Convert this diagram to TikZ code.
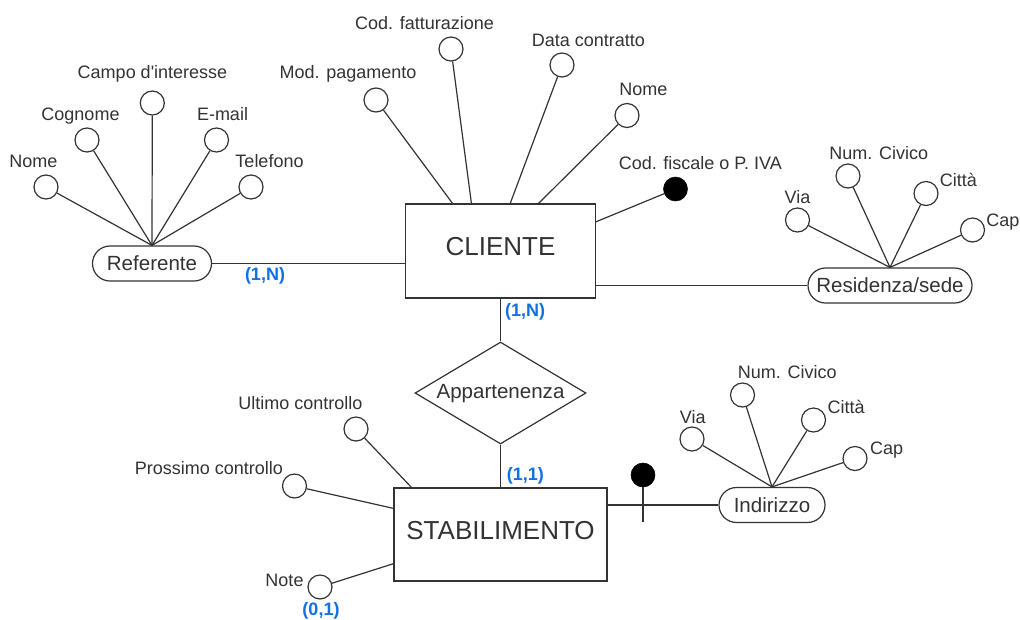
\documentclass[tikz,border=0pt]{standalone}
\usepackage{fontspec}
\setmainfont{Liberation Sans}
\usetikzlibrary{shapes.geometric,shapes.misc}
\definecolor{ink}{HTML}{333333}
\definecolor{cardblue}{HTML}{1071E5}
\begin{document}
\begin{tikzpicture}[x=0.75pt,y=-0.75pt,
  conn/.style={draw=ink, line width=0.9pt},
  attrc/.style={circle, draw=ink, line width=0.9pt, fill=white, minimum size=18pt, inner sep=0pt},
  keyattr/.style={circle, draw=black, fill=black, minimum size=18pt, inner sep=0pt},
  lbl/.style={text=ink, font=\fontsize{13.5pt}{16pt}\selectfont, inner sep=0pt, text height=9.7pt, text depth=0pt},
  cardlbl/.style={text=cardblue, font=\fontsize{13.5pt}{16pt}\selectfont\bfseries, inner sep=0pt, text height=9.7pt, text depth=0pt},
  entity/.style={rectangle, draw=ink, line width=0.9pt, fill=white, text=ink, font=\fontsize{19.5pt}{23pt}\selectfont, inner sep=0pt, text height=14pt, text depth=6.75pt},
  pill/.style={rounded rectangle, draw=ink, line width=0.9pt, fill=white, text=ink, font=\fontsize{15.4pt}{18pt}\selectfont, inner sep=0pt, text height=11pt, text depth=0pt, minimum height=26.25pt},
  relship/.style={diamond, draw=ink, line width=0.9pt, fill=white, inner sep=0pt},
  rellbl/.style={text=ink, font=\fontsize{15.4pt}{18pt}\selectfont, inner sep=0pt, text height=11pt, text depth=0pt},
]
\fill[white] (0,0) rectangle (1020,619);
\useasboundingbox (0,0) rectangle (1020,619);

% ---------- entities and relationship ----------
\node[entity, minimum width=142.5pt, minimum height=70.5pt] (cli) at (500.5,251) {CLIENTE};
\node[entity, minimum width=159.75pt, minimum height=69.75pt] (stab) at (500.5,534.5) {STABILIMENTO};
\node[relship, minimum width=128.25pt, minimum height=76.5pt] (app) at (500.5,393) {};
\node[rellbl] (applbl) at (500.5,391) {Appartenenza};

% ---------- composite attributes ----------
\node[pill, minimum width=89.25pt] (ref) at (152,263.5) {Referente};
\node[pill, minimum width=123pt] (res) at (890,285.5) {Residenza/sede};
\node[pill, minimum width=79.5pt] (ind) at (772,505) {Indirizzo};

% ---------- main connectors ----------
\draw[conn] (cli.south) -- (app.north);
\draw[conn] (app.south) -- (stab.north);
\draw[conn] (ref.east) -- (ref.east -| cli.west);
\draw[conn] (res.west -| cli.east) -- (res.west);
\draw[conn] (ind.west -| stab.east) -- (ind.west);

% ---------- Referente attributes ----------
\node[attrc] (rnome) at (46,187) {};
\node[attrc] (rcog) at (87,140) {};
\node[attrc] (rcampo) at (152.3,103) {};
\node[attrc] (remail) at (216.5,140) {};
\node[attrc] (rtel) at (251,187) {};
\foreach \a in {rnome,rcog,rcampo,remail,rtel} \draw[conn] (\a) -- (ref.north);
\node[lbl] (lrnome) at (33.5,161.5) {Nome};
\node[lbl] (lrcog) at (80.5,114) {Cognome};
\node[lbl] (lrcampo) at (152.5,72.3) {Campo d\textquotesingle interesse};
\node[lbl] (lremail) at (222.5,114) {E-mail};
\node[lbl] (lrtel) at (269.5,161.5) {Telefono};

% ---------- CLIENTE attributes ----------
\coordinate (c1) at (453,204);
\coordinate (c2) at (471.5,204);
\coordinate (c3) at (510,204);
\coordinate (c4) at (538,204);
\coordinate (c5) at (595.5,222);
\node[attrc] (cmod) at (376,100) {};
\node[attrc] (cfat) at (451,49) {};
\node[attrc] (cdata) at (562,65) {};
\node[attrc] (cnome) at (627,115.5) {};
\node[keyattr] (cfis) at (675.5,189) {};
\draw[conn] (cmod) -- (c1);
\draw[conn] (cfat) -- (c2);
\draw[conn] (cdata) -- (c3);
\draw[conn] (cnome) -- (c4);
\draw[conn] (c5) -- (cfis);
\node[lbl] (lcmod) at (348,72) {Mod. pagamento};
\node[lbl] (lcfat) at (424.5,23.3) {Cod. fatturazione};
\node[lbl] (lcdata) at (588.3,40) {Data contratto};
\node[lbl] (lcnome) at (643.3,89.3) {Nome};
\node[lbl] (lcfis) at (700.3,162.7) {Cod. fiscale o P. IVA};

% ---------- Residenza/sede attributes ----------
\node[attrc] (rsvia) at (797.5,220) {};
\node[attrc] (rsnum) at (848,176) {};
\node[attrc] (rscit) at (926,193.5) {};
\node[attrc] (rscap) at (972.5,230) {};
\foreach \a in {rsvia,rsnum,rscit,rscap} \draw[conn] (\a) -- (res.north);
\node[lbl] (lrsvia) at (797.5,197) {Via};
\node[lbl] (lrsnum) at (878.7,153.3) {Num. Civico};
\node[lbl] (lrscit) at (958.3,180) {Città};
\node[lbl, anchor=west] (lrscap) at (986,220) {Cap};

% ---------- STABILIMENTO attributes ----------
\coordinate (s1) at (412,488);
\coordinate (s2) at (394,508.5);
\coordinate (s3) at (394,563.5);
\node[attrc] (sult) at (356,429) {};
\node[attrc] (spro) at (294.5,486) {};
\node[attrc] (snote) at (320,587) {};
\draw[conn] (sult) -- (s1);
\draw[conn] (spro) -- (s2);
\draw[conn] (snote) -- (s3);
\node[lbl] (lsult) at (300.5,402.7) {Ultimo controllo};
\node[lbl] (lspro) at (209,468) {Prossimo controllo};
\node[lbl] (lsnote) at (284.5,580) {Note};

% identifier marker
\node[keyattr] (skey) at (643,475) {};
\coordinate (skeyb) at (643,522);
\draw[conn] (skey) -- (skeyb);

% ---------- Indirizzo attributes ----------
\node[attrc] (ivia) at (692,439) {};
\node[attrc] (inum) at (742.5,395) {};
\node[attrc] (icit) at (813.5,420) {};
\node[attrc] (icap) at (855,458.5) {};
\foreach \a in {ivia,inum,icit,icap} \draw[conn] (\a) -- (ind.north);
\node[lbl] (livia) at (692.8,417) {Via};
\node[lbl] (linum) at (787.2,372.3) {Num. Civico};
\node[lbl] (licit) at (846.2,406.7) {Città};
\node[lbl] (licap) at (886.7,448.3) {Cap};

% ---------- cardinalities ----------
\node[cardlbl] (k1) at (265,274) {(1,N)};
\node[cardlbl] (k2) at (525,310.5) {(1,N)};
\node[cardlbl] (k3) at (525.3,474.3) {(1,1)};
\node[cardlbl] (k4) at (321,609) {(0,1)};
\end{tikzpicture}
\end{document}
